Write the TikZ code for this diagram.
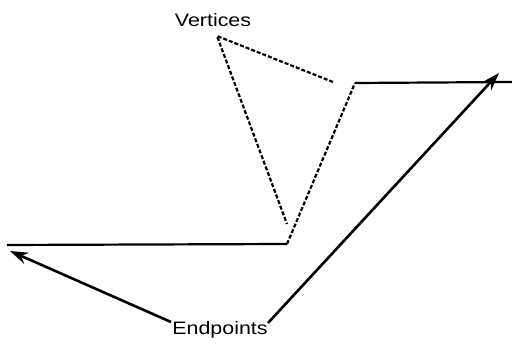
\documentclass[tikz,border=0pt]{standalone}
\usepackage{fontspec}
\setmainfont{Liberation Sans}
\usetikzlibrary{arrows.meta}
\begin{document}
\begin{tikzpicture}[x=1pt,y=-1pt,
  ln/.style={line width=2.2pt,black},
  dsh/.style={line width=2.2pt,black,dash pattern=on 4pt off 2pt},
  arr/.style={line width=2.6pt,black,-{Stealth[length=18pt,width=12pt]}},
  lbl/.style={font=\fontsize{18}{20}\selectfont,xscale=1.19,inner sep=1pt}]
\useasboundingbox (0,0) rectangle (512,352);
\coordinate (p0) at (7,245);
\coordinate (p1) at (287,244);
\coordinate (p2) at (355,83);
\coordinate (p3) at (512,82);
\coordinate (v) at (217,36);
\coordinate (va) at (333,82);
\coordinate (vb) at (287,224);
\coordinate (ea) at (10,251);
\coordinate (eb) at (499,73);
\coordinate (s1) at (171,322);
\coordinate (s2) at (268,323);
\node[lbl] (vert) at (213,20) {Vertices};
\node[lbl] (endp) at (220,330) {Endpoints};
\draw[ln] (p0) -- (p1);
\draw[dsh] (p1) -- (p2);
\draw[ln] (p2) -- (p3);
\draw[dsh] (va) -- (v) -- (vb);
\draw[arr] (s1) -- (ea);
\draw[arr] (s2) -- (eb);
\end{tikzpicture}
\end{document}
